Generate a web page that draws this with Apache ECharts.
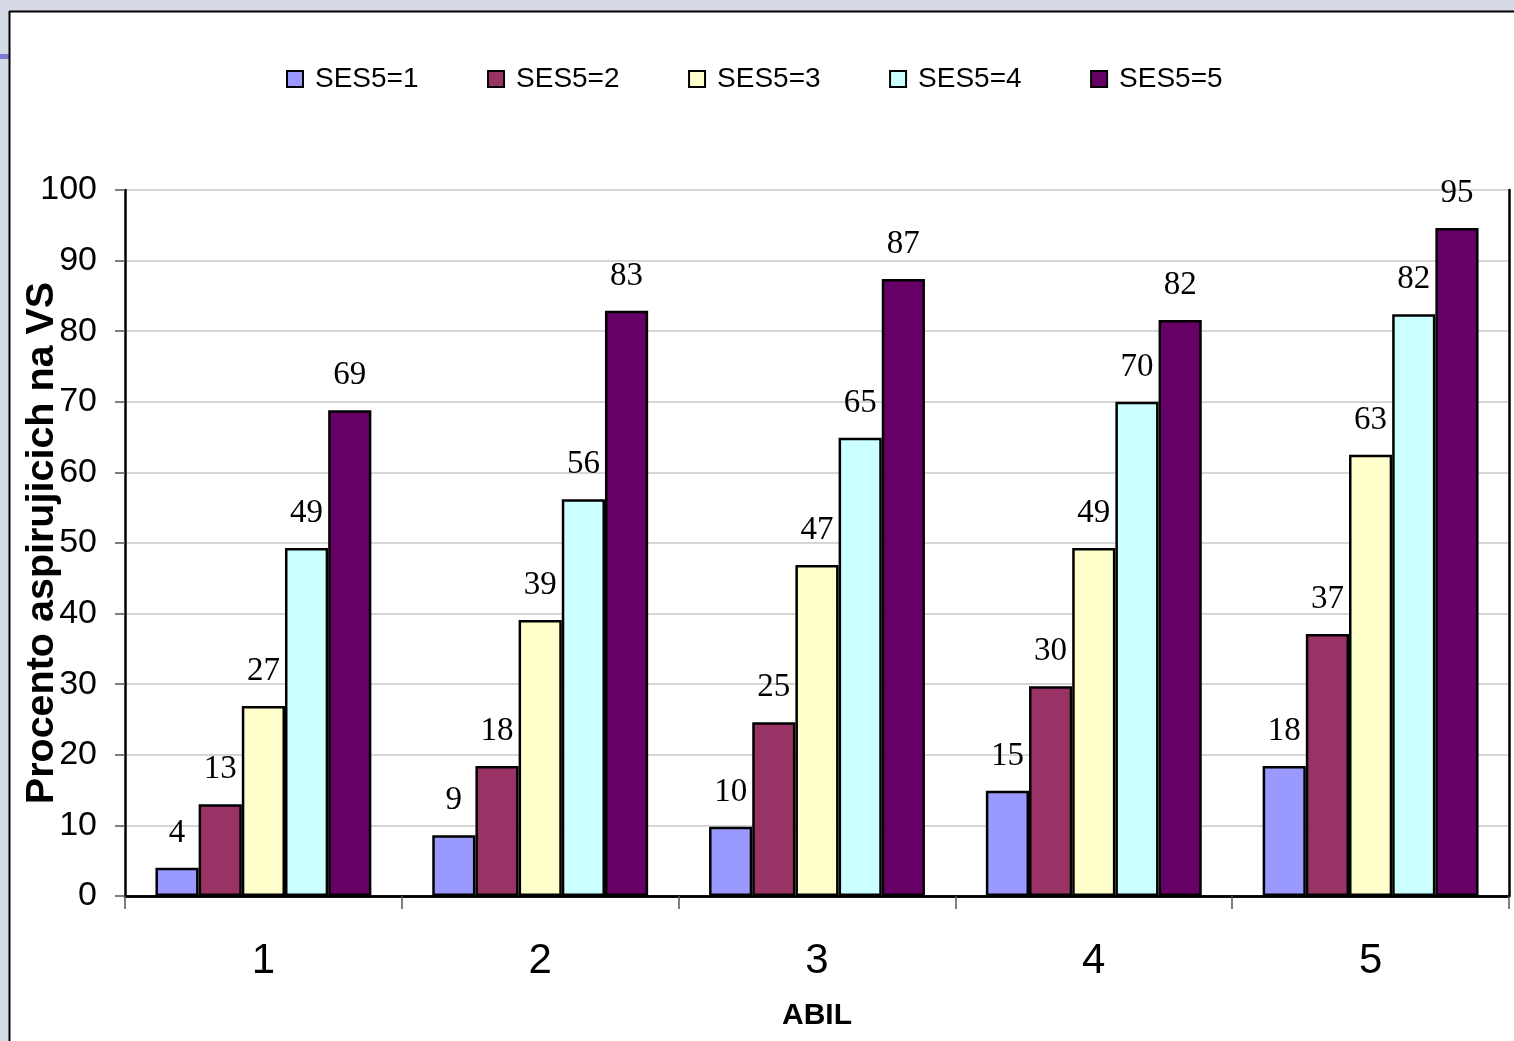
<!DOCTYPE html>
<html>
<head>
<meta charset="utf-8">
<script src="https://cdn.jsdelivr.net/npm/echarts@6/dist/echarts.min.js"></script>
<style>
html,body{margin:0;padding:0;background:#ffffff;}
#chart{width:1514px;height:1041px;}
</style>
</head>
<body>
<div id="chart"></div>
<script>
const categories = ['1', '2', '3', '4', '5'];
const seriesNames = ['SES5=1', 'SES5=2', 'SES5=3', 'SES5=4', 'SES5=5'];
const ses1 = [4.0, 8.6, 9.8, 14.9, 18.4];
const ses2 = [13.0, 18.4, 24.6, 29.7, 37.1];
const ses3 = [26.9, 39.1, 46.9, 49.3, 62.5];
const ses4 = [49.3, 56.2, 64.9, 70.0, 82.4];
const ses5 = [68.8, 82.9, 87.4, 81.6, 94.6];
const yTicks = [0, 10, 20, 30, 40, 50, 60, 70, 80, 90, 100];
const colors = ['#9999ff', '#993366', '#ffffcc', '#ccffff', '#660066'];
const allData = [ses1, ses2, ses3, ses4, ses5];

const chart = echarts.init(document.getElementById('chart'));
const option = {
  animation: false,
  backgroundColor: '#ffffff',
  graphic: [
    { type: 'rect', shape: { x: 0, y: 0, width: 1514, height: 11 }, style: { fill: '#d6dae6' }, z: -1 },
    { type: 'rect', shape: { x: 0, y: 0, width: 9, height: 1041 }, style: { fill: '#d6dae6' }, z: -1 },
    { type: 'rect', shape: { x: 0, y: 54, width: 9, height: 5 }, style: { fill: '#7b7bd6' }, z: 0 },
    { type: 'line', shape: { x1: 9, y1: 11.5, x2: 1514, y2: 11.5 }, style: { stroke: '#000000', lineWidth: 2 } },
    { type: 'line', shape: { x1: 9.5, y1: 11, x2: 9.5, y2: 1041 }, style: { stroke: '#000000', lineWidth: 2 } }
  ],
  legend: {
    left: 281,
    top: 60,
    itemWidth: 16,
    itemHeight: 16,
    itemGap: 68.5,
    icon: 'rect',
    data: seriesNames,
    textStyle: { fontFamily: 'Liberation Sans, Arial, sans-serif', fontSize: 28, color: '#000000', padding: [0, 0, 0, 7] }
  },
  grid: { left: 125, right: 5, top: 190, bottom: 145, containLabel: false, outerBoundsMode: 'none' },
  xAxis: [{
    type: 'category',
    data: categories,
    name: 'ABIL',
    nameLocation: 'middle',
    nameGap: 105,
    nameMoveOverlap: false,
    nameTextStyle: { fontFamily: 'Liberation Sans, Arial, sans-serif', fontSize: 30, fontWeight: 'bold', color: '#000000' },
    axisLine: { show: true, lineStyle: { color: '#000000', width: 2.5 } },
    axisTick: { show: true, alignWithLabel: false, length: 13, lineStyle: { color: '#555555', width: 1.5 } },
    axisLabel: { fontFamily: 'Liberation Sans, Arial, sans-serif', fontSize: 42, color: '#000000', margin: 44 },
    splitLine: { show: false }
  }, {
    type: 'category', data: categories, position: 'top',
    axisLine: { show: true, lineStyle: { color: '#000000', width: 2.5 } },
    axisTick: { show: false }, axisLabel: { show: false }, splitLine: { show: false }
  }],
  yAxis: [{
    type: 'value',
    min: 0,
    max: 100,
    interval: 10,
    name: 'Procento aspirujicich na VS',
    nameLocation: 'middle',
    nameGap: 63,
    nameMoveOverlap: false,
    nameRotate: 90,
    nameTextStyle: { fontFamily: 'Liberation Sans, Arial, sans-serif', fontSize: 39.5, fontWeight: 'bold', color: '#000000' },
    axisLine: { show: true, lineStyle: { color: '#000000', width: 2.5 } },
    axisTick: { show: true, length: 10, lineStyle: { color: '#555555', width: 1.5 } },
    axisLabel: {
      fontFamily: 'Liberation Sans, Arial, sans-serif', fontSize: 34, color: '#000000', margin: 28,
      formatter: function (v) { return yTicks.indexOf(v) >= 0 ? String(v) : ''; }
    },
    splitLine: { show: true, lineStyle: { color: '#c8c8c8', width: 1.5 } }
  }, {
    type: 'value', min: 0, max: 100, interval: 10, position: 'right',
    axisLine: { show: true, lineStyle: { color: '#000000', width: 2.5 } },
    axisTick: { show: false }, axisLabel: { show: false }, splitLine: { show: false }
  }],
  series: seriesNames.map(function (name, i) {
    return {
      name: name,
      type: 'bar',
      data: allData[i],
      barGap: '0%',
      barCategoryGap: '22%',
      itemStyle: { color: colors[i], borderColor: '#000000', borderWidth: 2.5 },
      label: {
        show: true,
        position: 'top',
        distance: 18,
        fontFamily: 'Liberation Serif, Times New Roman, serif',
        fontSize: 33,
        color: '#000000',
        formatter: function (p) { return Math.round(p.value); }
      }
    };
  })
};
chart.setOption(option);
</script>
</body>
</html>
